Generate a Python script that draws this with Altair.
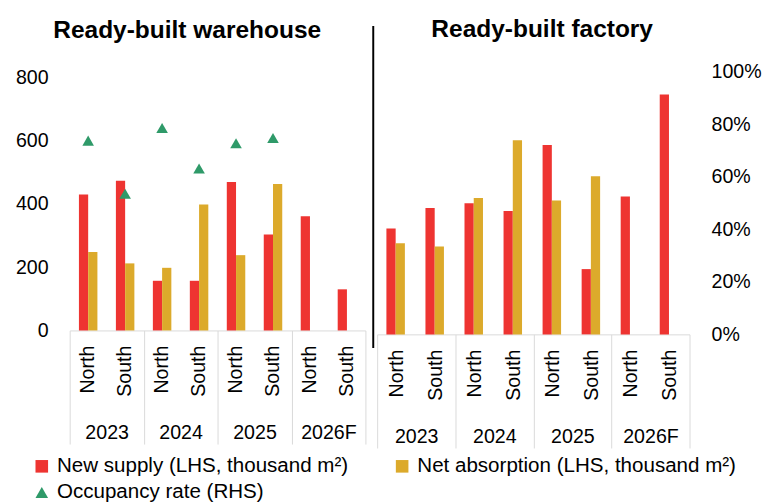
import altair as alt
import pandas as pd

years = ["2023", "2024", "2025", "2026F"]
regions = ["North", "South"]
series_names = [
    "New supply (LHS, thousand m²)",
    "Net absorption (LHS, thousand m²)",
    "Occupancy rate (RHS)",
]
series_colors = ["#EE3431", "#DCAA2B", "#2F9A69"]
series_shapes = ["square", "square", "triangle-up"]

# Ready-built warehouse (order: 2023 N, 2023 S, 2024 N, ... 2026F S)
wh_supply = [430, 473, 157, 157, 469, 303, 361, 130]
wh_absorption = [248, 212, 198, 398, 238, 463, None, None]
wh_occupancy = [0.75, 0.54, 0.80, 0.64, 0.74, 0.76, None, None]

# Ready-built factory
fac_supply = [323, 385, 400, 376, 577, 199, 420, 731]
fac_absorption = [278, 268, 416, 592, 408, 482, None, None]

pct_ticks = [0, 160, 320, 480, 640, 800]
lhs_ticks = [0, 200, 400, 600, 800]

FONT = "Liberation Sans"
keys = [f"{y}|{r}" for y in years for r in regions]

LEFT_H, RIGHT_H = 264, 268
left_top = 800 * LEFT_H / 258.5  # left panel plot runs a little above 800


def bar_frame(supply, absorption):
    rows = []
    for k, s, a in zip(keys, supply, absorption):
        rows.append({"key": k, "series": series_names[0], "value": s})
        if a is not None:
            rows.append({"key": k, "series": series_names[1], "value": a})
    return pd.DataFrame(rows)


def occ_frame(occ):
    return pd.DataFrame(
        [{"key": k, "series": series_names[2], "occ": o} for k, o in zip(keys, occ) if o is not None]
    )


color_scale = alt.Scale(domain=series_names, range=series_colors)
shape_scale = alt.Scale(domain=series_names, range=series_shapes)
legend = alt.Legend(
    title=None,
    orient="none",
    direction="horizontal",
    legendX=-39,
    legendY=392,
    columns=2,
    columnPadding=44,
    rowPadding=5,
    symbolSize=165,
    symbolStrokeWidth=0,
    labelFontSize=21,
    labelFont=FONT,
    labelColor="black",
    labelOffset=5,
    labelLimit=400,
)

region_axis = alt.Axis(
    orient="bottom",
    labelExpr="split(datum.label, '|')[1]",
    labelAngle=270,
    domain=False,
    ticks=False,
    labelPadding=15,
    labelOverlap=False,
    title=None,
)


def bar_layer(df, y_axis, top):
    return alt.Chart(df).mark_bar().encode(
        x=alt.X("key:N", scale=alt.Scale(domain=keys, paddingInner=0, paddingOuter=0), axis=region_axis),
        xOffset=alt.XOffset("series:N", scale=alt.Scale(domain=series_names[:2], paddingInner=0, paddingOuter=1)),
        y=alt.Y("value:Q", scale=alt.Scale(domain=[0, top], nice=False), axis=y_axis),
        color=alt.Color("series:N", scale=color_scale, legend=legend),
    )


def year_layer():
    return alt.Chart(pd.DataFrame({"year": years})).mark_point(opacity=0).encode(
        x=alt.X(
            "year:N",
            scale=alt.Scale(domain=years, paddingInner=0, paddingOuter=0),
            axis=alt.Axis(
                orient="bottom",
                tickBand="extent",
                tickSize=116,
                tickColor="#D9D9D9",
                domainColor="#D9D9D9",
                labelPadding=-22,
                labelAngle=0,
                title=None,
            ),
        ),
        y=alt.value(0),
    )


left_bars = bar_layer(
    bar_frame(wh_supply, wh_absorption),
    alt.Axis(orient="left", values=lhs_ticks, domain=False, ticks=False, labelPadding=22, title=None),
    left_top,
)
left_tri = alt.Chart(occ_frame(wh_occupancy)).mark_point(filled=True, size=140, opacity=1).encode(
    x=alt.X("key:N", scale=alt.Scale(domain=keys, paddingInner=0, paddingOuter=0), axis=None),
    y=alt.Y("occ:Q", scale=alt.Scale(domain=[0, left_top / 800], nice=False), axis=None),
    color=alt.Color("series:N", scale=color_scale, legend=legend),
    shape=alt.Shape("series:N", scale=shape_scale, legend=legend),
)
left = (
    alt.layer(left_bars, left_tri, year_layer())
    .resolve_scale(x="independent", y="independent")
    .properties(
        width=302,
        height=LEFT_H,
        title=alt.TitleParams("Ready-built warehouse", anchor="middle", dx=-31, offset=25.5),
    )
)

right_bars = bar_layer(
    bar_frame(fac_supply, fac_absorption),
    alt.Axis(
        orient="right",
        values=pct_ticks,
        labelExpr="format(datum.value / 800, '.0%')",
        domain=False,
        ticks=False,
        labelPadding=22,
        title=None,
    ),
    800,
)
separator = alt.Chart(pd.DataFrame({"s": [0]})).mark_rule(color="black", strokeWidth=2).encode(
    x=alt.value(-4), y=alt.value(-47), y2=alt.value(282)
)
right = (
    alt.layer(right_bars, separator, year_layer())
    .resolve_scale(x="independent")
    .properties(
        width=319,
        height=RIGHT_H,
        title=alt.TitleParams("Ready-built factory", anchor="middle", dx=9, offset=-17),
    )
)

chart = (
    alt.hconcat(left, right, spacing=6)
    .properties(padding={"left": 7, "top": 4, "right": 0, "bottom": 0})
    .configure_view(stroke=None)
    .configure_axis(labelFont=FONT, labelFontSize=20, labelColor="black", grid=False)
    .configure_title(font=FONT, fontSize=25, fontWeight="bold", color="black")
)

chart.save("out.html", embed_options={"renderer": "svg", "actions": False})
